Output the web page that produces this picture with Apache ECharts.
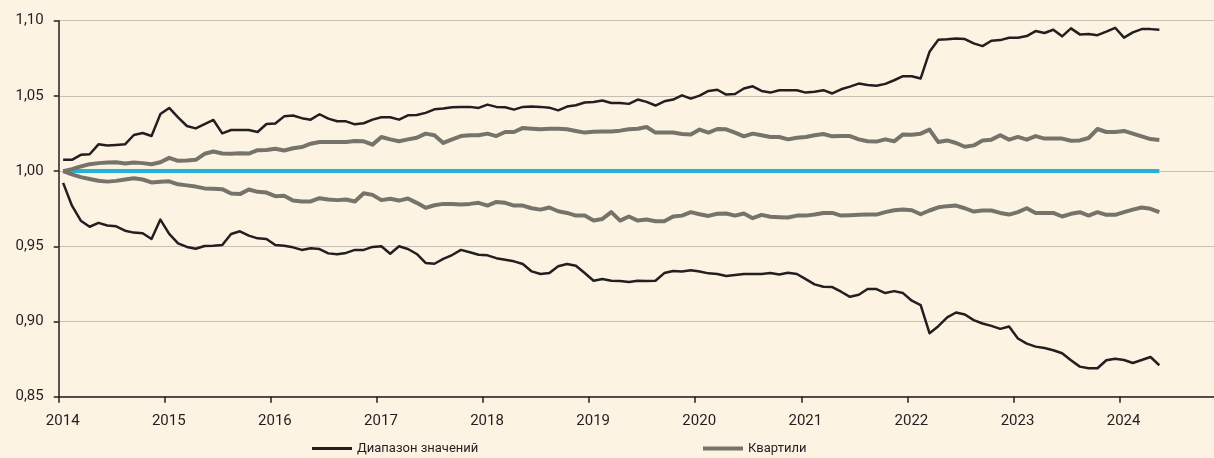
<!DOCTYPE html>
<html>
<head>
<meta charset="utf-8">
<script src="https://cdn.jsdelivr.net/npm/echarts@6/dist/echarts.min.js"></script>
<style>
  html, body { margin: 0; padding: 0; background: #fcf3e3; }
  #chart { width: 1214px; height: 458px; }
</style>
</head>
<body>
<div id="chart"></div>
<script>
// monthly points, Jan 2014 .. May 2024 (placed mid-month)
const startYear = 2014;
const years = [2014, 2015, 2016, 2017, 2018, 2019, 2020, 2021, 2022, 2023, 2024];

// Диапазон значений, верхняя граница
const rangeMax = [
  1.0075, 1.0075, 1.0108, 1.0112, 1.0178, 1.0170, 1.0174, 1.0178, 1.0240, 1.0253, 1.0233, 1.0379,
  1.0420, 1.0357, 1.0300, 1.0284, 1.0313, 1.0340, 1.0251, 1.0273, 1.0273, 1.0273, 1.0260, 1.0313,
  1.0316, 1.0364, 1.0370, 1.0352, 1.0342, 1.0378, 1.0349, 1.0331, 1.0331, 1.0311, 1.0318, 1.0342,
  1.0358, 1.0358, 1.0342, 1.0371, 1.0373, 1.0387, 1.0411, 1.0416, 1.0424, 1.0427, 1.0427, 1.0420,
  1.0442, 1.0427, 1.0424, 1.0409, 1.0427, 1.0429, 1.0427, 1.0422, 1.0404, 1.0429, 1.0438, 1.0456,
  1.0460, 1.0469, 1.0453, 1.0453, 1.0447, 1.0476, 1.0460, 1.0436, 1.0464, 1.0476, 1.0504, 1.0482,
  1.0502, 1.0533, 1.0541, 1.0509, 1.0513, 1.0549, 1.0564, 1.0533, 1.0522, 1.0538, 1.0538, 1.0538,
  1.0522, 1.0527, 1.0538, 1.0516, 1.0544, 1.0562, 1.0582, 1.0573, 1.0567, 1.0580, 1.0604, 1.0631,
  1.0631, 1.0616, 1.0793, 1.0873, 1.0876, 1.0882, 1.0878, 1.0849, 1.0831, 1.0867, 1.0871, 1.0887,
  1.0887, 1.0898, 1.0931, 1.0918, 1.0940, 1.0896, 1.0949, 1.0909, 1.0911, 1.0904, 1.0927, 1.0953,
  1.0887, 1.0922, 1.0944, 1.0944, 1.0940
];

// верхний квартиль
const quartUpper = [
  1.0000, 1.0013, 1.0031, 1.0046, 1.0053, 1.0057, 1.0059, 1.0050, 1.0057, 1.0053, 1.0046, 1.0059,
  1.0088, 1.0068, 1.0070, 1.0075, 1.0115, 1.0130, 1.0117, 1.0115, 1.0119, 1.0117, 1.0139, 1.0141,
  1.0149, 1.0137, 1.0152, 1.0160, 1.0182, 1.0193, 1.0193, 1.0193, 1.0193, 1.0200, 1.0198, 1.0176,
  1.0227, 1.0211, 1.0198, 1.0211, 1.0222, 1.0249, 1.0238, 1.0187, 1.0211, 1.0233, 1.0238, 1.0238,
  1.0249, 1.0233, 1.0260, 1.0260, 1.0287, 1.0282, 1.0278, 1.0282, 1.0282, 1.0278, 1.0267, 1.0256,
  1.0262, 1.0264, 1.0264, 1.0269, 1.0278, 1.0282, 1.0293, 1.0256, 1.0256, 1.0256, 1.0247, 1.0244,
  1.0276, 1.0256, 1.0280, 1.0278, 1.0256, 1.0231, 1.0249, 1.0238, 1.0227, 1.0227, 1.0211, 1.0222,
  1.0227, 1.0238, 1.0247, 1.0231, 1.0233, 1.0233, 1.0211, 1.0198, 1.0196, 1.0211, 1.0198, 1.0244,
  1.0242, 1.0249, 1.0276, 1.0193, 1.0204, 1.0187, 1.0162, 1.0171, 1.0204, 1.0209, 1.0238, 1.0209,
  1.0227, 1.0209, 1.0233, 1.0216, 1.0216, 1.0216, 1.0202, 1.0204, 1.0220, 1.0280, 1.0260, 1.0260,
  1.0267, 1.0249, 1.0231, 1.0213, 1.0207
];

// нижний квартиль
const quartLower = [
  1.0000, 0.9978, 0.9960, 0.9948, 0.9936, 0.9930, 0.9935, 0.9944, 0.9952, 0.9944, 0.9925, 0.9929,
  0.9932, 0.9912, 0.9905, 0.9897, 0.9885, 0.9882, 0.9880, 0.9851, 0.9847, 0.9878, 0.9862, 0.9857,
  0.9833, 0.9836, 0.9804, 0.9798, 0.9798, 0.9820, 0.9811, 0.9807, 0.9811, 0.9798, 0.9853, 0.9842,
  0.9807, 0.9816, 0.9804, 0.9818, 0.9789, 0.9756, 0.9773, 0.9782, 0.9782, 0.9778, 0.9782, 0.9789,
  0.9771, 0.9795, 0.9789, 0.9771, 0.9771, 0.9753, 0.9744, 0.9758, 0.9733, 0.9722, 0.9704, 0.9704,
  0.9671, 0.9682, 0.9727, 0.9671, 0.9698, 0.9671, 0.9678, 0.9667, 0.9667, 0.9698, 0.9704, 0.9727,
  0.9713, 0.9702, 0.9716, 0.9718, 0.9704, 0.9718, 0.9687, 0.9709, 0.9696, 0.9693, 0.9691, 0.9704,
  0.9704, 0.9711, 0.9722, 0.9722, 0.9704, 0.9707, 0.9709, 0.9711, 0.9711, 0.9727, 0.9740, 0.9744,
  0.9740, 0.9713, 0.9738, 0.9759, 0.9767, 0.9771, 0.9753, 0.9731, 0.9738, 0.9738, 0.9722, 0.9711,
  0.9727, 0.9753, 0.9722, 0.9722, 0.9722, 0.9698, 0.9716, 0.9727, 0.9704, 0.9727, 0.9709, 0.9709,
  0.9727, 0.9744, 0.9758, 0.9749, 0.9727
];

// Диапазон значений, нижняя граница
const rangeMin = [
  0.9922, 0.9770, 0.9670, 0.9630, 0.9656, 0.9638, 0.9633, 0.9604, 0.9591, 0.9587, 0.9549, 0.9678,
  0.9582, 0.9520, 0.9496, 0.9484, 0.9502, 0.9504, 0.9509, 0.9582, 0.9600, 0.9571, 0.9553, 0.9549,
  0.9509, 0.9504, 0.9493, 0.9476, 0.9487, 0.9482, 0.9453, 0.9447, 0.9456, 0.9476, 0.9476, 0.9496,
  0.9500, 0.9451, 0.9500, 0.9482, 0.9449, 0.9389, 0.9384, 0.9416, 0.9442, 0.9476, 0.9460, 0.9444,
  0.9440, 0.9421, 0.9411, 0.9400, 0.9382, 0.9333, 0.9316, 0.9322, 0.9367, 0.9382, 0.9371, 0.9322,
  0.9271, 0.9282, 0.9271, 0.9269, 0.9262, 0.9271, 0.9269, 0.9271, 0.9322, 0.9336, 0.9333, 0.9340,
  0.9333, 0.9320, 0.9316, 0.9302, 0.9309, 0.9316, 0.9316, 0.9316, 0.9322, 0.9313, 0.9324, 0.9316,
  0.9282, 0.9247, 0.9231, 0.9229, 0.9198, 0.9164, 0.9178, 0.9216, 0.9216, 0.9189, 0.9202, 0.9189,
  0.9138, 0.9109, 0.8922, 0.8969, 0.9027, 0.9060, 0.9047, 0.9009, 0.8987, 0.8971, 0.8951, 0.8967,
  0.8887, 0.8853, 0.8833, 0.8824, 0.8809, 0.8789, 0.8742, 0.8700, 0.8689, 0.8689, 0.8742, 0.8753,
  0.8744, 0.8724, 0.8744, 0.8764, 0.8709
];

// медиана = 1,00 на всём периоде
const baseline = [1.00, 1.00];

const ink = '#231f20';
const grey = '#76736b';
const cyan = '#22b2d8';
const font = 'Roboto';

function toPoints(arr) {
  return arr.map((v, i) => [startYear + (i + 0.5) / 12, v]);
}
const lastX = startYear + (rangeMax.length - 0.5) / 12;
const firstX = startYear + 0.5 / 12;

const chart = echarts.init(document.getElementById('chart'));

const legendText = { fontFamily: font, fontSize: 13, color: ink, padding: [2, 0, 0, 0] };

const option = {
  backgroundColor: '#fcf3e3',
  animation: false,
  textStyle: { fontFamily: font, color: ink },
  grid: { left: 58.7, right: 0, top: 20.7, bottom: 61.3, containLabel: false },
  legend: [
    {
      left: 312, top: 442, padding: 0,
      itemWidth: 40, itemHeight: 3,
      icon: 'rect',
      textStyle: legendText,
      data: ['Диапазон значений']
    },
    {
      left: 703, top: 442, padding: 0,
      itemWidth: 40, itemHeight: 4,
      icon: 'rect',
      textStyle: legendText,
      data: ['Квартили']
    }
  ],
  xAxis: {
    type: 'value',
    min: years[0],
    max: 2024.89,
    interval: 1,
    axisLine: { lineStyle: { color: ink, width: 1.5 } },
    axisTick: { length: 6, lineStyle: { color: ink, width: 1.5 } },
    axisLabel: {
      margin: 17,
      fontSize: 15,
      fontFamily: font,
      color: ink,
      showMaxLabel: false,
      padding: [0, 0, 0, 8],
      formatter: v => (years.indexOf(v) >= 0 ? String(v) : '')
    },
    splitLine: { show: false }
  },
  yAxis: {
    type: 'value',
    min: 0.85,
    max: 1.10,
    interval: 0.05,
    axisLine: { show: true, lineStyle: { color: ink, width: 1.5 } },
    axisTick: { show: true, length: 5, lineStyle: { color: ink, width: 1.5 } },
    axisLabel: {
      margin: 15,
      fontSize: 15,
      fontFamily: font,
      color: ink,
      formatter: v => v.toFixed(2).replace('.', ',')
    },
    splitLine: { lineStyle: { color: '#c9c0b4', width: 1.2 } }
  },
  series: [
    {
      name: 'Медиана',
      type: 'line',
      symbol: 'none',
      data: [[firstX, baseline[0]], [lastX, baseline[1]]],
      lineStyle: { color: cyan, width: 4 },
      itemStyle: { color: cyan },
      z: 2
    },
    {
      name: 'Квартили',
      type: 'line',
      symbol: 'none',
      data: toPoints(quartUpper),
      lineStyle: { color: grey, width: 4, join: 'round' },
      itemStyle: { color: grey },
      z: 3
    },
    {
      name: 'Квартили',
      type: 'line',
      symbol: 'none',
      data: toPoints(quartLower),
      lineStyle: { color: grey, width: 4, join: 'round' },
      itemStyle: { color: grey },
      z: 3
    },
    {
      name: 'Диапазон значений',
      type: 'line',
      symbol: 'none',
      data: toPoints(rangeMax),
      lineStyle: { color: ink, width: 2.5, join: 'round' },
      itemStyle: { color: ink },
      z: 4
    },
    {
      name: 'Диапазон значений',
      type: 'line',
      symbol: 'none',
      data: toPoints(rangeMin),
      lineStyle: { color: ink, width: 2.5, join: 'round' },
      itemStyle: { color: ink },
      z: 4
    }
  ]
};

chart.setOption(option);
</script>
</body>
</html>
